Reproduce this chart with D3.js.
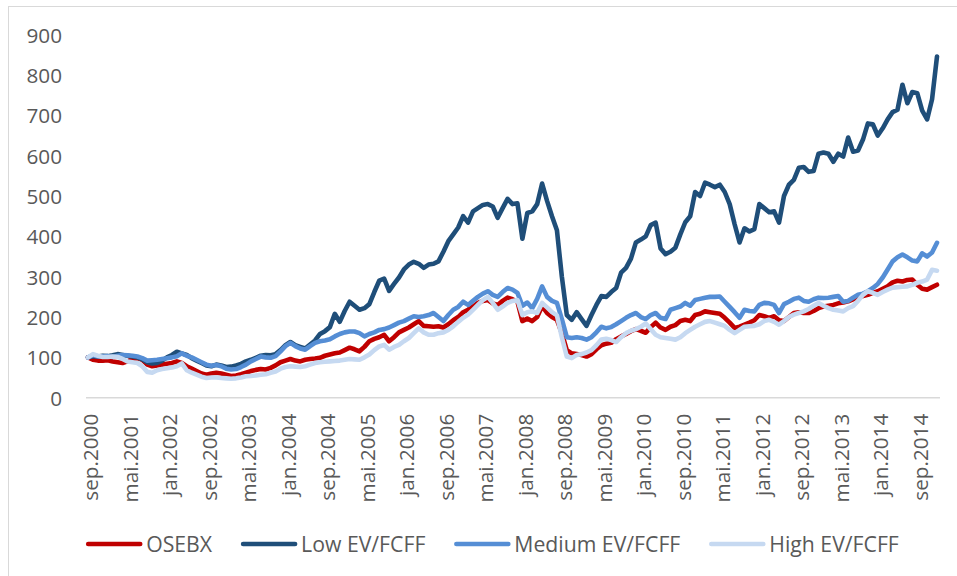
<!DOCTYPE html>
<html>
<head>
<meta charset="utf-8">
<script src="https://cdn.jsdelivr.net/npm/d3@7/dist/d3.min.js"></script>
<style>
  html, body { margin: 0; padding: 0; background: #fff; }
  svg { display: block; }
</style>
</head>
<body>
<svg id="chart" width="957" height="576"></svg>
<script>
// ---------- DATA ----------
const monthNames = ["jan","feb","mar","apr","mai","jun","jul","aug","sep","okt","nov","des"];
const startYear = 2000, startMonth = 8; // sep.2000
const nPoints = 173;                    // sep.2000 .. jan.2015

const tickLabels = ["sep.2000","mai.2001","jan.2002","sep.2002","mai.2003","jan.2004",
  "sep.2004","mai.2005","jan.2006","sep.2006","mai.2007","jan.2008","sep.2008","mai.2009",
  "jan.2010","sep.2010","mai.2011","jan.2012","sep.2012","mai.2013","jan.2014","sep.2014"];

const yTicks = [0,100,200,300,400,500,600,700,800,900];

const osebx = [
  100, 94, 92, 92, 93, 90, 88, 86, 90, 96,
  98, 94, 82, 78, 80, 82, 84, 86, 90, 86,
  78, 72, 66, 60, 57, 60, 62, 60, 57, 54,
  55, 58, 62, 66, 69, 71, 70, 74, 80, 88,
  92, 96, 92, 90, 94, 96, 97, 99, 104, 107,
  110, 112, 118, 124, 120, 115, 126, 140, 146, 150,
  156, 140, 150, 162, 168, 174, 182, 190, 178, 177,
  176, 177, 174, 182, 192, 200, 212, 218, 226, 235,
  240, 242, 234, 230, 240, 248, 244, 238, 190, 196,
  190, 200, 227, 210, 200, 193, 160, 118, 110, 108,
  106, 102, 108, 120, 130, 134, 136, 145, 152, 158,
  165, 170, 166, 161, 175, 186, 174, 168, 176, 180,
  190, 193, 190, 205, 208, 214, 212, 210, 208, 198,
  186, 173, 176, 181, 186, 192, 205, 202, 198, 202,
  192, 190, 200, 210, 212, 210, 210, 215, 222, 226,
  228, 230, 234, 236, 239, 244, 248, 252, 255, 260,
  264, 270, 276, 286, 290, 288, 292, 293, 280, 270,
  268, 274, 280
];

const lowEV = [
  100, 103, 102, 104, 103, 105, 108, 106, 104, 102,
  100, 95, 88, 85, 86, 92, 100, 106, 114, 110,
  106, 98, 92, 86, 80, 78, 82, 80, 76, 77,
  80, 84, 90, 94, 99, 104, 106, 105, 108, 118,
  130, 138, 130, 126, 122, 132, 142, 158, 165, 175,
  208, 188, 215, 238, 228, 218, 222, 232, 262, 290,
  295, 265, 282, 298, 318, 330, 337, 332, 322, 330,
  332, 338, 362, 388, 405, 422, 450, 434, 462, 470,
  478, 480, 474, 446, 470, 493, 480, 482, 394, 458,
  462, 480, 531, 488, 450, 415, 300, 205, 193, 212,
  195, 178, 205, 230, 252, 250, 262, 272, 310, 322,
  345, 385, 392, 400, 428, 434, 370, 356, 362, 372,
  405, 435, 450, 510, 500, 533, 528, 522, 528, 510,
  480, 430, 385, 420, 412, 418, 480, 470, 460, 462,
  434, 500, 528, 540, 570, 572, 560, 562, 605, 608,
  605, 585, 605, 598, 645, 610, 613, 640, 680, 678,
  650, 668, 690, 708, 714, 776, 730, 758, 755, 712,
  690, 740, 846
];

const mediumEV = [
  100, 105, 102, 102, 103, 101, 104, 106, 105, 104,
  102, 98, 92, 93, 94, 96, 98, 100, 103, 110,
  104, 100, 94, 88, 82, 79, 81, 78, 72, 70,
  71, 76, 82, 90, 96, 102, 100, 99, 103, 115,
  128, 136, 128, 122, 119, 128, 136, 140, 142, 145,
  152, 158, 162, 164, 164, 160, 152, 158, 162, 168,
  170, 174, 180, 186, 190, 196, 202, 200, 202, 205,
  210, 200, 190, 205, 218, 225, 238, 230, 240, 250,
  258, 264, 255, 250, 262, 272, 268, 260, 228, 236,
  222, 245, 276, 250, 240, 235, 195, 150, 148, 150,
  148, 144, 150, 162, 176, 172, 175, 182, 190, 198,
  205, 210, 200, 195, 205, 210, 198, 195, 218, 222,
  226, 235, 228, 242, 245, 248, 250, 250, 251, 238,
  225, 212, 198, 218, 215, 214, 230, 235, 234, 230,
  210, 232, 238, 245, 248, 240, 238, 244, 248, 247,
  248, 250, 252, 238, 240, 248, 255, 258, 264, 272,
  282, 298, 318, 338, 348, 355, 348, 340, 338, 358,
  350, 360, 384
];

const highEV = [
  100, 108, 104, 101, 101, 102, 101, 96, 90, 88,
  86, 78, 64, 62, 68, 71, 73, 75, 78, 85,
  68, 62, 57, 52, 49, 50, 50, 49, 48, 47,
  48, 50, 53, 54, 55, 57, 58, 62, 65, 72,
  76, 78, 77, 76, 78, 82, 86, 88, 89, 90,
  91, 92, 94, 96, 95, 94, 100, 107, 118, 127,
  131, 119, 126, 131, 140, 148, 160, 172, 162, 156,
  156, 160, 162, 168, 177, 188, 198, 206, 218, 230,
  242, 250, 235, 218, 226, 235, 240, 242, 205, 212,
  214, 210, 235, 224, 212, 204, 150, 102, 98, 106,
  108, 112, 118, 130, 144, 146, 143, 138, 150, 160,
  166, 170, 176, 184, 170, 156, 150, 148, 146, 144,
  150, 160, 168, 176, 182, 188, 190, 186, 182, 178,
  168, 160, 168, 176, 177, 178, 182, 190, 193, 188,
  181, 190, 200, 206, 210, 214, 220, 228, 235, 228,
  222, 218, 216, 214, 222, 227, 240, 255, 264, 260,
  255, 262, 268, 273, 274, 275, 276, 280, 285, 288,
  293, 317, 315
];

const seriesNames = ["OSEBX","Low EV/FCFF","Medium EV/FCFF","High EV/FCFF"];
const seriesColors = ["#C00000","#1F4E79","#558ED5","#C6D9F1"];

// categories built from month names
const categories = d3.range(nPoints).map(i => {
  const m = (startMonth + i) % 12;
  const yr = startYear + Math.floor((startMonth + i) / 12);
  return monthNames[m] + "." + yr;
});

const series = [osebx, lowEV, mediumEV, highEV].map((vals, k) => ({
  name: seriesNames[k], color: seriesColors[k],
  values: vals.map((v, i) => ({ cat: categories[i], v }))
}));

// ---------- LAYOUT ----------
const svg = d3.select("#chart");
const FONT = "'Open Sans', 'Liberation Sans', sans-serif";
const TEXT = "#595959";

// chart border (Excel chart area)
svg.append("rect")
  .attr("x", 8.5).attr("y", 6.5).attr("width", 1200).attr("height", 1200)
  .attr("fill", "none").attr("stroke", "#D9D9D9").attr("stroke-width", 1);

// auto-fit font size to reference glyph widths
function fitSize(str, target) {
  const t = svg.append("text").attr("font-family", FONT).attr("font-size", 20).text(str);
  const w = t.node().getComputedTextLength();
  t.remove();
  return 20 * target / w;
}
const axisFS = fitSize("sep.2000", 87);
const legendFS = fitSize("Medium EV/FCFF", 166);

const x = d3.scalePoint().domain(categories).range([88, 937]);
const y = d3.scaleLinear().domain([0, 900]).range([397.7, 34.7]);

// x axis line
svg.append("line")
  .attr("x1", 86).attr("x2", 940)
  .attr("y1", y(0)).attr("y2", y(0))
  .attr("stroke", "#D9D9D9").attr("stroke-width", 1.5);

// y axis labels
const yAxis = d3.axisLeft(y).tickValues(yTicks).tickSize(0).tickPadding(0);
const gy = svg.append("g").attr("transform", "translate(62,0)").call(yAxis);
gy.select(".domain").remove();
gy.selectAll("text")
  .attr("font-family", FONT).attr("font-size", axisFS).attr("fill", TEXT)
  .attr("dy", "0.36em");

// x axis labels (rotated)
const tickCats = categories.filter(c => tickLabels.includes(c));
const xAxis = d3.axisBottom(x).tickValues(tickCats).tickSize(0).tickPadding(0);
const gx = svg.append("g").attr("transform", `translate(0,${y(0)})`).call(xAxis);
gx.select(".domain").remove();
gx.selectAll(".tick text")
  .attr("font-family", FONT).attr("font-size", axisFS).attr("fill", TEXT)
  .attr("text-anchor", "end")
  .attr("y", 0).attr("dy", "0.35em")
  .attr("transform", "translate(2.5,16) rotate(-90)");

// lines
const line = d3.line().x(d => x(d.cat)).y(d => y(d.v));
svg.append("g").selectAll("path").data(series).join("path")
  .attr("d", d => line(d.values))
  .attr("fill", "none")
  .attr("stroke", d => d.color)
  .attr("stroke-width", 4.6)
  .attr("stroke-linejoin", "round")
  .attr("stroke-linecap", "round");

// legend
const legY = 544, lineLen = 56, txtGap = 4, itemGap = 29, legCenter = 492.5;
const lg = svg.append("g");
const widths = seriesNames.map(n => {
  const t = lg.append("text").attr("font-family", FONT).attr("font-size", legendFS).text(n);
  const w = t.node().getComputedTextLength(); t.remove(); return w;
});
const total = d3.sum(widths) + seriesNames.length * (lineLen + txtGap) + (seriesNames.length - 1) * itemGap;
let cx = legCenter - total / 2;
series.forEach((s, k) => {
  lg.append("line")
    .attr("x1", cx + 2).attr("x2", cx + lineLen - 2)
    .attr("y1", legY).attr("y2", legY)
    .attr("stroke", s.color).attr("stroke-width", 4.6).attr("stroke-linecap", "round");
  lg.append("text")
    .attr("x", cx + lineLen + txtGap).attr("y", legY).attr("dy", "0.36em")
    .attr("font-family", FONT).attr("font-size", legendFS).attr("fill", TEXT)
    .text(s.name);
  cx += lineLen + txtGap + widths[k] + itemGap;
});
</script>
</body>
</html>
